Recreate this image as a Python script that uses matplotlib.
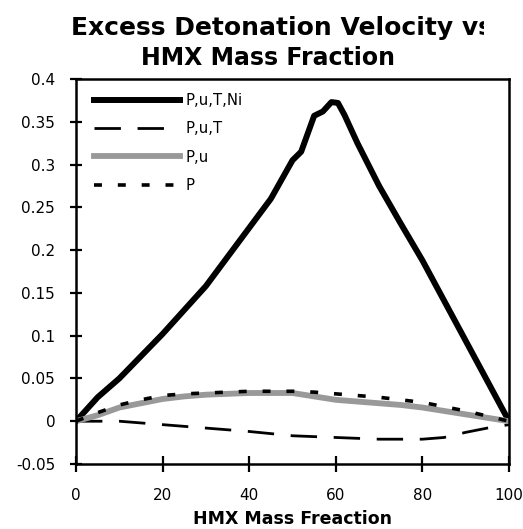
import matplotlib
matplotlib.use("Agg")
import matplotlib.pyplot as plt
from matplotlib.transforms import Bbox

plt.rcParams['font.family'] = ['DejaVu Sans']

# ---- data ----
x_putni = [0, 5, 10, 15, 20, 25, 30, 35, 40, 45, 50, 52, 55, 57, 59, 60.5, 62, 65, 70, 75, 80, 85, 90, 95, 100]
y_putni = [0, 0.028, 0.05, 0.076, 0.102, 0.13, 0.158, 0.192, 0.226, 0.26, 0.305, 0.315, 0.357, 0.362,
           0.373, 0.372, 0.358, 0.325, 0.275, 0.231, 0.188, 0.141, 0.094, 0.047, 0]

x_put = [0, 10, 20, 30, 40, 50, 60, 70, 80, 85, 90, 95, 100]
y_put = [0, 0.0, -0.004, -0.008, -0.012, -0.017, -0.019, -0.021, -0.021, -0.019, -0.013, -0.008, -0.004]

x_pu = [0, 5, 10, 15, 20, 25, 30, 35, 40, 45, 50, 55, 60, 65, 70, 75, 80, 85, 90, 95, 100]
y_pu = [0, 0.007, 0.016, 0.021, 0.026, 0.029, 0.031, 0.032, 0.033, 0.033, 0.033, 0.029, 0.025, 0.023,
        0.021, 0.019, 0.016, 0.012, 0.008, 0.004, 0]

x_p = [0, 5, 10, 15, 20, 25, 30, 40, 50, 55, 60, 65, 70, 80, 90, 100]
y_p = [0, 0.01, 0.019, 0.025, 0.03, 0.032, 0.033, 0.035, 0.035, 0.034, 0.032, 0.03, 0.028, 0.022, 0.012, 0]

labels = ['P,u,T,Ni', 'P,u,T', 'P,u', 'P']
x_ticks = [0, 20, 40, 60, 80, 100]
y_ticks = [-0.05, 0, 0.05, 0.1, 0.15, 0.2, 0.25, 0.3, 0.35, 0.4]
y_tick_labels = ['-0.05', '0', '0.05', '0.1', '0.15', '0.2', '0.25', '0.3', '0.35', '0.4']

fig = plt.figure(figsize=(5.23, 5.29), dpi=100)
ax = fig.add_axes([76 / 523, 65 / 529, 433 / 523, 385 / 529])

ax.plot(x_putni, y_putni, color='black', lw=4.3, label=labels[0], solid_joinstyle='round')
ax.plot(x_put, y_put, color='black', lw=2, dashes=(9.5, 6), label=labels[1])
ax.plot(x_pu, y_pu, color='#999999', lw=4.2, label=labels[2])
ax.plot(x_p, y_p, color='black', lw=2.6, dashes=(2.2, 4.4), label=labels[3])

ax.set_xlim(0, 100)
ax.set_ylim(-0.05, 0.4)
ax.set_xticks(x_ticks)
ax.set_yticks(y_ticks)
ax.set_yticklabels(y_tick_labels)
ax.tick_params(axis='both', direction='inout', width=1.6, labelsize=11, colors='black')
ax.tick_params(axis='x', length=11, pad=11.5)
ax.tick_params(axis='y', length=9, pad=10.5)
for s in ax.spines.values():
    s.set_linewidth(1.8)

ax.set_xlabel('HMX Mass Freaction', fontsize=12.5, fontweight='bold', labelpad=5)

leg = ax.legend(loc='upper left', frameon=False, fontsize=10.7, handlelength=5.8,
                handletextpad=0.4, labelspacing=0.9, borderaxespad=0.2,
                bbox_to_anchor=(0.02, 0.987))

# title, first line clipped on the right as in the original
t1 = fig.text(71 / 523, 1 - 28 / 529, 'Excess Detonation Velocity vs', fontsize=18,
              fontweight='bold', ha='left', va='center')
t1.set_clip_box(Bbox.from_extents(0, 0, 484, 529))
t1.set_clip_on(True)
fig.text(268 / 523, 1 - 58 / 529, 'HMX Mass Fraction', fontsize=17,
         fontweight='bold', ha='center', va='center')

fig.savefig('out.png', dpi=100)
